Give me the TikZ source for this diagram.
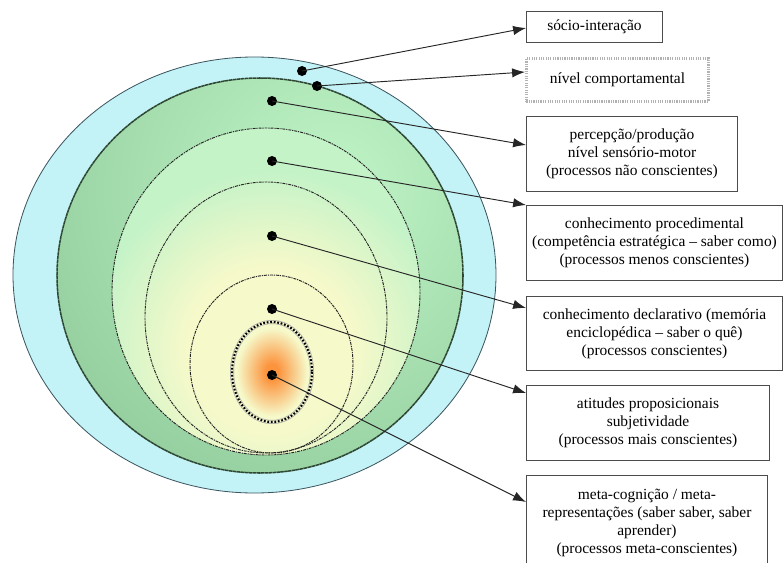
\documentclass[tikz,border=0pt]{standalone}
\usepackage{fontspec}
\setmainfont{Liberation Serif}
\usetikzlibrary{arrows.meta,calc}

\definecolor{ceu}{RGB}{196,243,247}
\definecolor{borda}{RGB}{60,85,95}
\definecolor{verdeA}{RGB}{192,245,199}
\definecolor{verdeB}{RGB}{150,208,160}
\definecolor{verdeC}{RGB}{196,243,200}
\definecolor{bordaV}{RGB}{45,70,50}
\definecolor{palido}{RGB}{246,249,202}
\definecolor{laranja}{RGB}{252,148,62}

% stops: 25bp = radius of the shaded path
\pgfdeclareradialshading{nucleo}{\pgfpoint{0bp}{0bp}}{%
  color(0bp)=(palido); color(7bp)=(palido); color(15bp)=(verdeC); color(50bp)=(verdeC)}
\pgfdeclareradialshading{brasa}{\pgfpoint{0bp}{0bp}}{%
  color(0bp)=(laranja); color(4bp)=(laranja); color(22bp)=(palido); color(50bp)=(palido)}

\begin{document}
\begin{tikzpicture}[x=0.03cm, y=-0.03cm,
  every node/.style={font=\fontsize{13.2}{15.4}\selectfont},
  caixa/.style={draw=black!70, line width=0.8pt, anchor=north west,
                align=center, inner sep=2pt},
  ponto/.style={circle, fill=black, minimum size=0.3cm, inner sep=0pt},
  anel/.style={draw=black!85, line width=0.8pt,
               dash pattern=on 2.5pt off 0.8pt on 1pt off 0.8pt},
  ar/.style={-{Latex[length=11pt,width=8pt]}, draw=black!85, line width=0.8pt}]

\useasboundingbox (0,0) rectangle (784,563);
\clip (0,0) rectangle (784,563);

%% ---- ELLIPSES (outside in) ----
\filldraw[fill=ceu, draw=borda, line width=0.7pt]
  (254.5,275) ellipse [x radius=241.5, y radius=218];
\begin{scope}
  \clip (260,275.5) ellipse [x radius=203, y radius=197.5];
  \shade[inner color=verdeA, outer color=verdeB] (330,190) circle [radius=310];
\end{scope}
\draw[draw=bordaV, line width=1.3pt, dash pattern=on 3pt off 0.4pt]
  (260,275.5) ellipse [x radius=203, y radius=197.5];
\begin{scope}
  \clip (266,291.5) ellipse [x radius=154, y radius=163.5];
  \shade[shading=nucleo] (270,350) circle [radius=300];
\end{scope}
\draw[anel] (266,291.5) ellipse [x radius=154, y radius=163.5];
\draw[anel] (266,317.5) ellipse [x radius=121, y radius=135.5];
\draw[anel] (271.5,364) ellipse [x radius=81.5, y radius=89];

%% core
\shade[shading=brasa] (272,372) ellipse [x radius=40, y radius=50];
\draw[draw=gray!70, line width=3.4pt] (272,372) ellipse [x radius=40, y radius=50];
\draw[draw=palido, line width=2.2pt] (272,372) ellipse [x radius=40, y radius=50];
\draw[draw=black, line width=1.8pt, dash pattern=on 1.5pt off 1.5pt]
  (272,372) ellipse [x radius=40, y radius=50];

%% ---- DOTS ----
\node[ponto] (pSoc) at (302,71)  {};
\node[ponto] (pCom) at (317,86)  {};
\node[ponto] (pPer) at (272,101) {};
\node[ponto] (pPro) at (272,161) {};
\node[ponto] (pDec) at (272,236) {};
\node[ponto] (pAti) at (272,309) {};
\node[ponto] (pMet) at (272,375) {};

%% ---- BOXES ----
\node[caixa, minimum width=4.08cm, minimum height=0.93cm] (bSoc) at (526,11)
  {sócio-interação};
\node[caixa, draw=gray!60, line width=2.4pt, dash pattern=on 1pt off 1pt,
      minimum width=5.46cm, minimum height=1.29cm] (bCom) at (525,57)
  {nível comportamental};
\node[caixa, minimum width=6.33cm, minimum height=2.25cm] (bPer) at (526,116)
  {percepção/produção\\nível sensório-motor\\(processos não conscientes)};
\node[caixa, minimum width=7.68cm, minimum height=2.25cm] (bPro) at (526,205)
  {conhecimento procedimental\\(competência estratégica – saber como)\\(processos menos conscientes)};
\node[caixa, minimum width=7.68cm, minimum height=2.22cm] (bDec) at (526,296)
  {conhecimento declarativo (memória\\enciclopédica – saber o quê)\\(processos conscientes)};
\node[caixa, minimum width=7.29cm, minimum height=2.25cm] (bAti) at (526,385)
  {atitudes proposicionais\\subjetividade\\(processos mais conscientes)};
\node[caixa, minimum width=7.23cm, minimum height=2.85cm] (bMet) at (526,475)
  {meta-cognição / meta-\\representações (saber saber, saber\\aprender)\\(processos meta-conscientes)};

%% ---- ARROWS ----
\draw[ar] (pSoc.center) -- ($(bSoc.north west)+(0,17)$);
\draw[ar] (pCom.center) -- ($(bCom.north west)+(0,15)$);
\draw[ar] (pPer.center) -- ($(bPer.north west)+(0,29)$);
\draw[ar] (pPro.center) -- (bPro.north west);
\draw[ar] (pDec.center) -- ($(bDec.north west)+(0,12)$);
\draw[ar] (pAti.center) -- ($(bAti.north west)+(0,8)$);
\draw[ar] (pMet.center) -- ($(bMet.north west)+(0,27)$);
\end{tikzpicture}
\end{document}
